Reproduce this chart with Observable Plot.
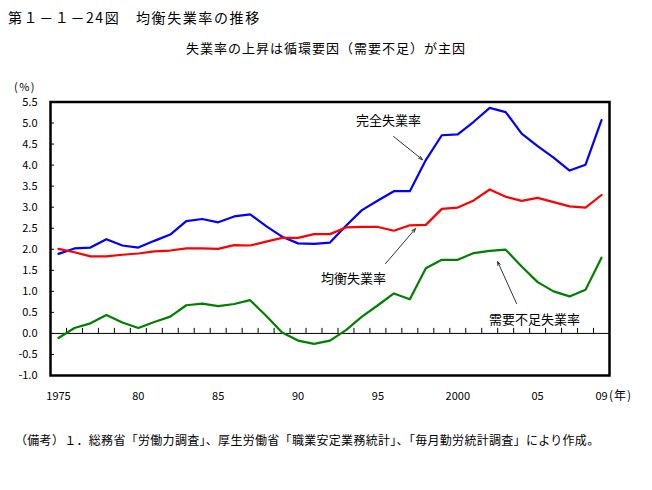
<!DOCTYPE html>
<html><head><meta charset="utf-8">
<script src="https://cdn.jsdelivr.net/npm/d3@7"></script>
<script src="https://cdn.jsdelivr.net/npm/@observablehq/plot@0.6"></script>
<style>
body{margin:0;background:#fff;}
#wrap{position:relative;width:652px;height:490px;font-family:"Noto Sans CJK JP",sans-serif;color:#000;}
.t{position:absolute;line-height:1;white-space:nowrap;}
</style></head><body>
<div id="wrap">
<div class="t" style="left:8px;top:10px;font-size:14px;letter-spacing:1.6px">第１－１－24図　均衡失業率の推移</div>
<div class="t" style="left:0;width:652px;text-align:center;top:41px;font-size:13px;letter-spacing:1px">失業率の上昇は循環要因（需要不足）が主因</div>
<div id="chart" style="position:absolute;left:0;top:60px"></div>
<div class="t" style="left:14px;top:81px;font-size:11px;letter-spacing:1.5px">(%)</div>
<div class="t" style="left:609px;top:389px;font-size:12px;letter-spacing:1px">(年)</div>
<div class="t" style="left:15px;top:434px;font-size:12px;letter-spacing:0.3px">（備考）１．総務省「労働力調査」、厚生労働省「職業安定業務統計」、「毎月勤労統計調査」により作成。</div>
</div>
<script>
const years = [1975,1976,1977,1978,1979,1980,1981,1982,1983,1984,1985,1986,1987,1988,1989,1990,1991,1992,1993,1994,1995,1996,1997,1998,1999,2000,2001,2002,2003,2004,2005,2006,2007,2008,2009];
const complete = [1.89,2.02,2.04,2.24,2.09,2.04,2.20,2.35,2.67,2.72,2.64,2.78,2.83,2.55,2.30,2.14,2.13,2.16,2.56,2.93,3.16,3.38,3.38,4.12,4.71,4.73,5.03,5.36,5.26,4.75,4.45,4.18,3.87,4.01,5.07];
const equilibrium = [2.01,1.93,1.83,1.83,1.87,1.90,1.95,1.97,2.02,2.02,2.01,2.10,2.09,2.18,2.27,2.27,2.36,2.36,2.52,2.53,2.53,2.44,2.57,2.58,2.96,2.99,3.16,3.42,3.25,3.15,3.22,3.12,3.02,2.99,3.29];
const demand = [-0.11,0.13,0.24,0.44,0.26,0.13,0.27,0.40,0.67,0.71,0.65,0.70,0.79,0.42,0.02,-0.17,-0.25,-0.17,0.08,0.40,0.67,0.95,0.81,1.55,1.75,1.75,1.91,1.96,1.99,1.59,1.22,1.00,0.88,1.04,1.80];
const seriesNames = ["完全失業率","均衡失業率","需要不足失業率"];
const seriesColors = ["#0000ff","#ff0000","#008000"];
const yTicks = [-1,-0.5,0,0.5,1,1.5,2,2.5,3,3.5,4,4.5,5,5.5];
const xTickYears = [1975,1980,1985,1990,1995,2000,2005,2009];
const xTickLabels = ["1975","80","85","90","95","2000","05","09"];
const labelX = [1995.66,1993.47,2004.8];
const labelY = [5.06,1.30,0.33];
const arrowX1 = [1995.98,1995.48,2003.68];
const arrowY1 = [4.68,1.66,0.71];
const arrowX2 = [1997.79,1997.35,2002.49];
const arrowY2 = [4.13,2.49,1.71];

const seriesValues = [complete, equilibrium, demand];
const rows = seriesNames.flatMap((s, k) => years.map((y, i) => ({series: s, year: y, value: seriesValues[k][i]})));
const minorTicks = d3.range(1975.5, 2009, 1);

const chart = Plot.plot({
  width: 652, height: 360,
  marginLeft: 50, marginRight: 43, marginTop: 41.5, marginBottom: 45,
  style: {fontFamily: "'Noto Sans CJK JP', sans-serif", fontSize: "11px", color: "#000", background: "transparent"},
  x: {domain: [1974.5, 2009.5]},
  y: {domain: [-1, 5.5]},
  color: {domain: seriesNames, range: seriesColors},
  marks: [
    Plot.ruleY([0], {stroke: "#000", strokeWidth: 1}),
    Plot.ruleX(minorTicks, {x: d => d, y1: 0, y2: 0.12, stroke: "#000", strokeWidth: 1}),
    Plot.ruleY(yTicks, {y: d => d, x1: 1974.5, x2: 1974.75, stroke: "#000", strokeWidth: 1}),
    Plot.axisY({ticks: yTicks, tickSize: 0, tickPadding: 13, tickFormat: d => d.toFixed(1), label: null}),
    Plot.axisX({ticks: xTickYears, tickSize: 0, tickPadding: 17, tickFormat: d => xTickLabels[xTickYears.indexOf(d)], label: null}),
    Plot.line(rows, {x: "year", y: "value", z: "series", stroke: "series", strokeWidth: 2.2, curve: "linear"}),
    Plot.arrow(seriesNames, {x1: (d,i) => arrowX1[i], y1: (d,i) => arrowY1[i], x2: (d,i) => arrowX2[i], y2: (d,i) => arrowY2[i], stroke: "#333", strokeWidth: 1, headLength: 6, headAngle: 40}),
    Plot.text(seriesNames, {x: (d,i) => labelX[i], y: (d,i) => labelY[i], text: d => d, fontSize: 13, fill: "#000"}),
    Plot.frame({stroke: "#000", strokeWidth: 2.5})
  ]
});
document.getElementById("chart").appendChild(chart);
</script>
</body></html>
